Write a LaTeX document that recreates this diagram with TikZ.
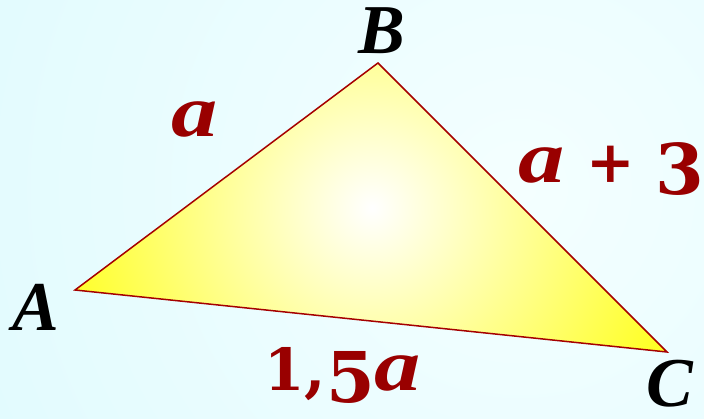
\documentclass[tikz,border=0pt]{standalone}
\usepackage{fontspec}
\setmainfont{Liberation Serif}
\newfontfamily\dvs{DejaVu Serif}
\definecolor{lblred}{RGB}{153,0,0}
\definecolor{edgered}{RGB}{165,0,0}
\definecolor{bgcyan}{RGB}{222,250,254}
\definecolor{bginner}{RGB}{244,255,255}
\definecolor{triyellow}{RGB}{255,255,0}
\tikzset{
  vlabel/.style={inner sep=0pt, anchor=base west, font=\bfseries\itshape\fontsize{70}{70}\selectfont, text=black},
  slabel/.style={inner sep=0pt, anchor=base west, font=\bfseries, text=lblred},
  triedge/.style={draw=edgered, line width=1.5pt, line join=miter}
}
\newcommand{\ita}{\scalebox{1.25}[1]{\fontsize{74}{74}\selectfont\itshape a}}
\begin{document}
\begin{tikzpicture}[x=1pt,y=1pt]
  % background
  \fill[bgcyan] (0,0) rectangle (704,418);
  \begin{scope}
    \clip (0,0) rectangle (704,418);
    \shade[inner color=bginner, outer color=bgcyan] (520,230) circle (700);
  \end{scope}
  \useasboundingbox (0,0) rectangle (704,418);
  % vertices
  \coordinate (A) at (75,128);
  \coordinate (B) at (378,355);
  \coordinate (C) at (667,66);
  % triangle fill
  \begin{scope}
    \clip (A) -- (B) -- (C) -- cycle;
    \fill[triyellow] (A) -- (B) -- (C) -- cycle;
    \shade[inner color=white, outer color=triyellow] (372,210) circle (370);
  \end{scope}
  \draw[triedge] (A) -- (B) -- (C) -- cycle;
  % vertex labels
  \node[vlabel] (lA) at (12,88) {A};
  \node[vlabel] (lB) at (358,364) {B};
  \node[vlabel] (lC) at (646,12) {C};
  % side labels
  \node[slabel] (lAB) at (171,281) {\ita};
  \node[slabel] (lBC) at (518,235) {\ita\hspace{22pt}{\dvs\fontsize{58}{58}\selectfont +}\hspace{20pt}\raisebox{-12pt}{\dvs\fontsize{70}{70}\selectfont 3}};
  \node[slabel] (lAC) at (264,28) {{\dvs\fontsize{58}{58}\selectfont 1}{\dvs\fontsize{62}{62}\selectfont ,}\raisebox{-12pt}{\dvs\fontsize{70}{70}\selectfont 5}\ita};
\end{tikzpicture}
\end{document}
